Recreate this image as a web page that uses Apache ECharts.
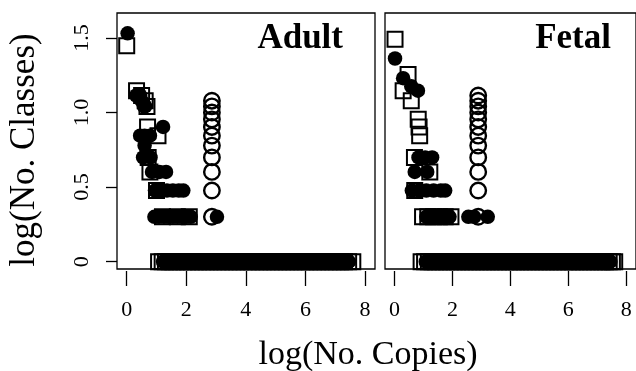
<!DOCTYPE html>
<html>
<head>
<meta charset="utf-8">
<script src="https://cdn.jsdelivr.net/npm/echarts@6/dist/echarts.min.js"></script>
<style>
  html, body { margin: 0; padding: 0; background: #fff; }
  #chart { width: 636px; height: 371px; }
</style>
</head>
<body>
<div id="chart"></div>
<script>
// Number of gene classes vs copy number (both log scale), two tissues.
// Three marker groups per panel: open squares, filled circles, open circles.

const panelTitles = ['Adult', 'Fetal'];
const xTicks = [0, 2, 4, 6, 8];
const yTicks = [0, 0.5, 1, 1.5];

// ---- Adult ----
const adultSquareX = [0.00, 0.33, 0.50, 0.62, 0.68, 0.70, 1.05, 0.72, 0.78, 1.00, 1.20, 1.70, 2.10,
  1.07, 1.19, 1.30, 1.43, 1.55, 1.66, 1.79, 1.92, 2.04, 2.17, 2.30, 2.41, 2.55, 2.67, 2.79, 2.92,
  3.06, 3.18, 3.30, 3.43, 3.56, 3.69, 3.81, 3.94, 4.08, 4.20, 4.33, 4.46, 4.58, 4.71, 4.85, 4.97,
  5.10, 5.23, 5.36, 5.48, 5.61, 5.75, 5.88, 6.01, 6.13, 6.27, 6.40, 6.52, 6.66, 6.79, 6.92, 7.05,
  7.18, 7.31, 7.45, 7.59];
const adultSquareY = [1.447, 1.146, 1.114, 1.079, 1.041, 0.903, 0.845, 0.699, 0.602, 0.477, 0.301, 0.301, 0.301,
  0, 0, 0, 0, 0, 0, 0, 0, 0, 0, 0, 0, 0, 0, 0, 0,
  0, 0, 0, 0, 0, 0, 0, 0, 0, 0, 0, 0, 0, 0, 0, 0,
  0, 0, 0, 0, 0, 0, 0, 0, 0, 0, 0, 0, 0, 0, 0, 0,
  0, 0, 0, 0];

const adultFilledX = [0.03, 0.32, 0.45, 0.50, 0.58, 0.62, 1.22, 0.45, 0.60, 0.78, 0.60, 0.55, 0.80,
  0.85, 1.10, 1.32, 0.95, 1.15, 1.35, 1.55, 1.75, 1.90,
  0.93, 1.08, 1.25, 1.40, 1.55, 1.70, 1.85, 2.00, 2.15, 3.03,
  1.22, 1.36, 1.49, 1.61, 1.74, 1.86, 1.99, 2.12, 2.24, 2.37, 2.49, 2.62, 2.74, 2.87, 3.00, 3.12,
  3.25, 3.37, 3.50, 3.63, 3.75, 3.88, 4.01, 4.13, 4.26, 4.39, 4.52, 4.64, 4.77, 4.90, 5.03, 5.15,
  5.28, 5.41, 5.54, 5.66, 5.79, 5.92, 6.05, 6.18, 6.31, 6.43, 6.56, 6.69, 6.82, 6.95, 7.08, 7.20,
  7.33, 7.46];
const adultFilledY = [1.531, 1.114, 1.114, 1.079, 1.041, 1.041, 0.903, 0.845, 0.845, 0.845, 0.778, 0.699, 0.699,
  0.602, 0.602, 0.602, 0.477, 0.477, 0.477, 0.477, 0.477, 0.477,
  0.301, 0.301, 0.301, 0.301, 0.301, 0.301, 0.301, 0.301, 0.301, 0.301,
  0, 0, 0, 0, 0, 0, 0, 0, 0, 0, 0, 0, 0, 0, 0, 0,
  0, 0, 0, 0, 0, 0, 0, 0, 0, 0, 0, 0, 0, 0, 0, 0,
  0, 0, 0, 0, 0, 0, 0, 0, 0, 0, 0, 0, 0, 0, 0, 0,
  0, 0];

const adultOpenX = [2.86, 2.86, 2.86, 2.86, 2.86, 2.86, 2.86, 2.86, 2.86, 2.86, 2.86];
const adultOpenY = [0.301, 0.477, 0.602, 0.699, 0.778, 0.845, 0.903, 0.954, 1.000, 1.041, 1.079];

// ---- Fetal ----
const fetalSquareX = [0.02, 0.47, 0.30, 0.58, 0.82, 0.85, 0.87, 0.69, 1.22, 0.70,
  0.97, 1.15, 1.35, 1.55, 1.75, 1.95,
  0.92, 1.04, 1.17, 1.30, 1.42, 1.55, 1.68, 1.80, 1.93, 2.06, 2.18, 2.31, 2.44, 2.57, 2.69, 2.82,
  2.95, 3.08, 3.20, 3.33, 3.46, 3.59, 3.71, 3.84, 3.97, 4.10, 4.22, 4.35, 4.48, 4.61, 4.73, 4.86,
  4.99, 5.12, 5.24, 5.37, 5.50, 5.63, 5.75, 5.88, 6.01, 6.14, 6.26, 6.39, 6.52, 6.65, 6.77, 6.90,
  7.03, 7.16, 7.28, 7.41, 7.52, 7.60];
const fetalSquareY = [1.491, 1.255, 1.146, 1.079, 0.954, 0.903, 0.845, 0.699, 0.602, 0.477,
  0.301, 0.301, 0.301, 0.301, 0.301, 0.301,
  0, 0, 0, 0, 0, 0, 0, 0, 0, 0, 0, 0, 0, 0, 0, 0,
  0, 0, 0, 0, 0, 0, 0, 0, 0, 0, 0, 0, 0, 0, 0, 0,
  0, 0, 0, 0, 0, 0, 0, 0, 0, 0, 0, 0, 0, 0, 0, 0,
  0, 0, 0, 0, 0, 0];

const fetalFilledX = [0.02, 0.30, 0.58, 0.81,
  0.83, 1.06, 1.30, 0.70, 1.13,
  0.60, 0.85, 1.10, 1.35, 1.60, 1.75,
  1.10, 1.30, 1.50, 1.70, 1.90, 2.55, 2.75, 3.22,
  1.08, 1.21, 1.34, 1.47, 1.60, 1.73, 1.86, 1.99, 2.12, 2.25, 2.38, 2.51, 2.64, 2.77, 2.90, 3.03,
  3.16, 3.29, 3.42, 3.55, 3.68, 3.81, 3.94, 4.07, 4.20, 4.33, 4.46, 4.59, 4.72, 4.85, 4.98, 5.11,
  5.24, 5.37, 5.50, 5.63, 5.76, 5.89, 6.02, 6.15, 6.28, 6.41, 6.54, 6.67, 6.80, 6.93, 7.06, 7.19,
  7.32, 7.45];
const fetalFilledY = [1.362, 1.230, 1.176, 1.146,
  0.699, 0.699, 0.699, 0.602, 0.602,
  0.477, 0.477, 0.477, 0.477, 0.477, 0.477,
  0.301, 0.301, 0.301, 0.301, 0.301, 0.301, 0.301, 0.301,
  0, 0, 0, 0, 0, 0, 0, 0, 0, 0, 0, 0, 0, 0, 0, 0,
  0, 0, 0, 0, 0, 0, 0, 0, 0, 0, 0, 0, 0, 0, 0, 0,
  0, 0, 0, 0, 0, 0, 0, 0, 0, 0, 0, 0, 0, 0, 0, 0,
  0, 0];

const fetalOpenX = [2.89, 2.89, 2.89, 2.89, 2.89, 2.89, 2.89, 2.89, 2.89, 2.89, 2.89, 2.89];
const fetalOpenY = [0.301, 0.477, 0.602, 0.699, 0.778, 0.845, 0.903, 0.954, 1.000, 1.041, 1.079, 1.114];

const SERIF = '"Liberation Serif", "Times New Roman", serif';

function pairs(xs, ys) {
  return xs.map((x, i) => [x, ys[i]]);
}

const panels = [
  { open: pairs(adultOpenX, adultOpenY), square: pairs(adultSquareX, adultSquareY), filled: pairs(adultFilledX, adultFilledY) },
  { open: pairs(fetalOpenX, fetalOpenY), square: pairs(fetalSquareX, fetalSquareY), filled: pairs(fetalFilledX, fetalFilledY) }
];

const gridLefts = [117, 385];

const grid = gridLefts.map(left => ({
  left: left, top: 13, width: 258, height: 256,
  show: true, borderColor: '#000', borderWidth: 1.3, backgroundColor: 'transparent',
  containLabel: false
}));

const xAxis = gridLefts.map((_, i) => ({
  type: 'value', gridIndex: i, position: 'bottom', min: -0.326, max: 8.335, offset: 2,
  axisLine: { show: false, onZero: false },
  splitLine: { show: false },
  axisTick: { show: true, customValues: xTicks, length: 15, lineStyle: { color: '#000', width: 1.3 } },
  axisLabel: { show: true, customValues: xTicks, color: '#000', fontFamily: SERIF, fontSize: 22, margin: 28 }
}));

const yAxis = gridLefts.map((_, i) => ({
  type: 'value', gridIndex: i, position: 'left', min: -0.049, max: 1.667,
  show: i === 0,
  axisLine: { show: false, onZero: false },
  splitLine: { show: false },
  axisTick: { show: true, customValues: yTicks, length: 11, lineStyle: { color: '#000', width: 1.3 } },
  axisLabel: {
    show: true, customValues: yTicks, rotate: 90, color: '#000', fontFamily: SERIF, fontSize: 22, margin: 24,
    formatter: v => (v === 0 ? '0' : v.toFixed(1))
  }
}));

const series = [];
panels.forEach((p, i) => {
  series.push({
    type: 'scatter', xAxisIndex: i, yAxisIndex: i, data: p.open,
    symbol: 'circle', symbolSize: 15.5, silent: true,
    itemStyle: { color: 'transparent', borderColor: '#000', borderWidth: 2.4, opacity: 1 }
  });
  series.push({
    type: 'scatter', xAxisIndex: i, yAxisIndex: i, data: p.square,
    symbol: 'rect', symbolSize: 15, silent: true,
    itemStyle: { color: 'transparent', borderColor: '#000', borderWidth: 2, opacity: 1 }
  });
  series.push({
    type: 'scatter', xAxisIndex: i, yAxisIndex: i, data: p.filled,
    symbol: 'circle', symbolSize: 14.5, silent: true,
    itemStyle: { color: '#000', opacity: 1 }
  });
});

const graphic = [
  { type: 'text', x: 343, y: 39, silent: true,
    style: { text: panelTitles[0], fontFamily: SERIF, fontSize: 35, fontWeight: 'bold', fill: '#000', align: 'right', verticalAlign: 'middle' } },
  { type: 'text', x: 611, y: 39, silent: true,
    style: { text: panelTitles[1], fontFamily: SERIF, fontSize: 35, fontWeight: 'bold', fill: '#000', align: 'right', verticalAlign: 'middle' } },
  { type: 'text', x: 368, y: 355, silent: true,
    style: { text: 'log(No. Copies)', fontFamily: SERIF, fontSize: 34, fill: '#000', align: 'center', verticalAlign: 'middle' } },
  { type: 'text', x: 25, y: 150, rotation: Math.PI / 2, silent: true,
    style: { text: 'log(No. Classes)', fontFamily: SERIF, fontSize: 35, fill: '#000', align: 'center', verticalAlign: 'middle' } }
];

const chart = echarts.init(document.getElementById('chart'), null, { renderer: 'canvas' });
chart.setOption({
  animation: false,
  backgroundColor: '#fff',
  grid: grid,
  xAxis: xAxis,
  yAxis: yAxis,
  series: series,
  graphic: graphic
});
</script>
</body>
</html>
